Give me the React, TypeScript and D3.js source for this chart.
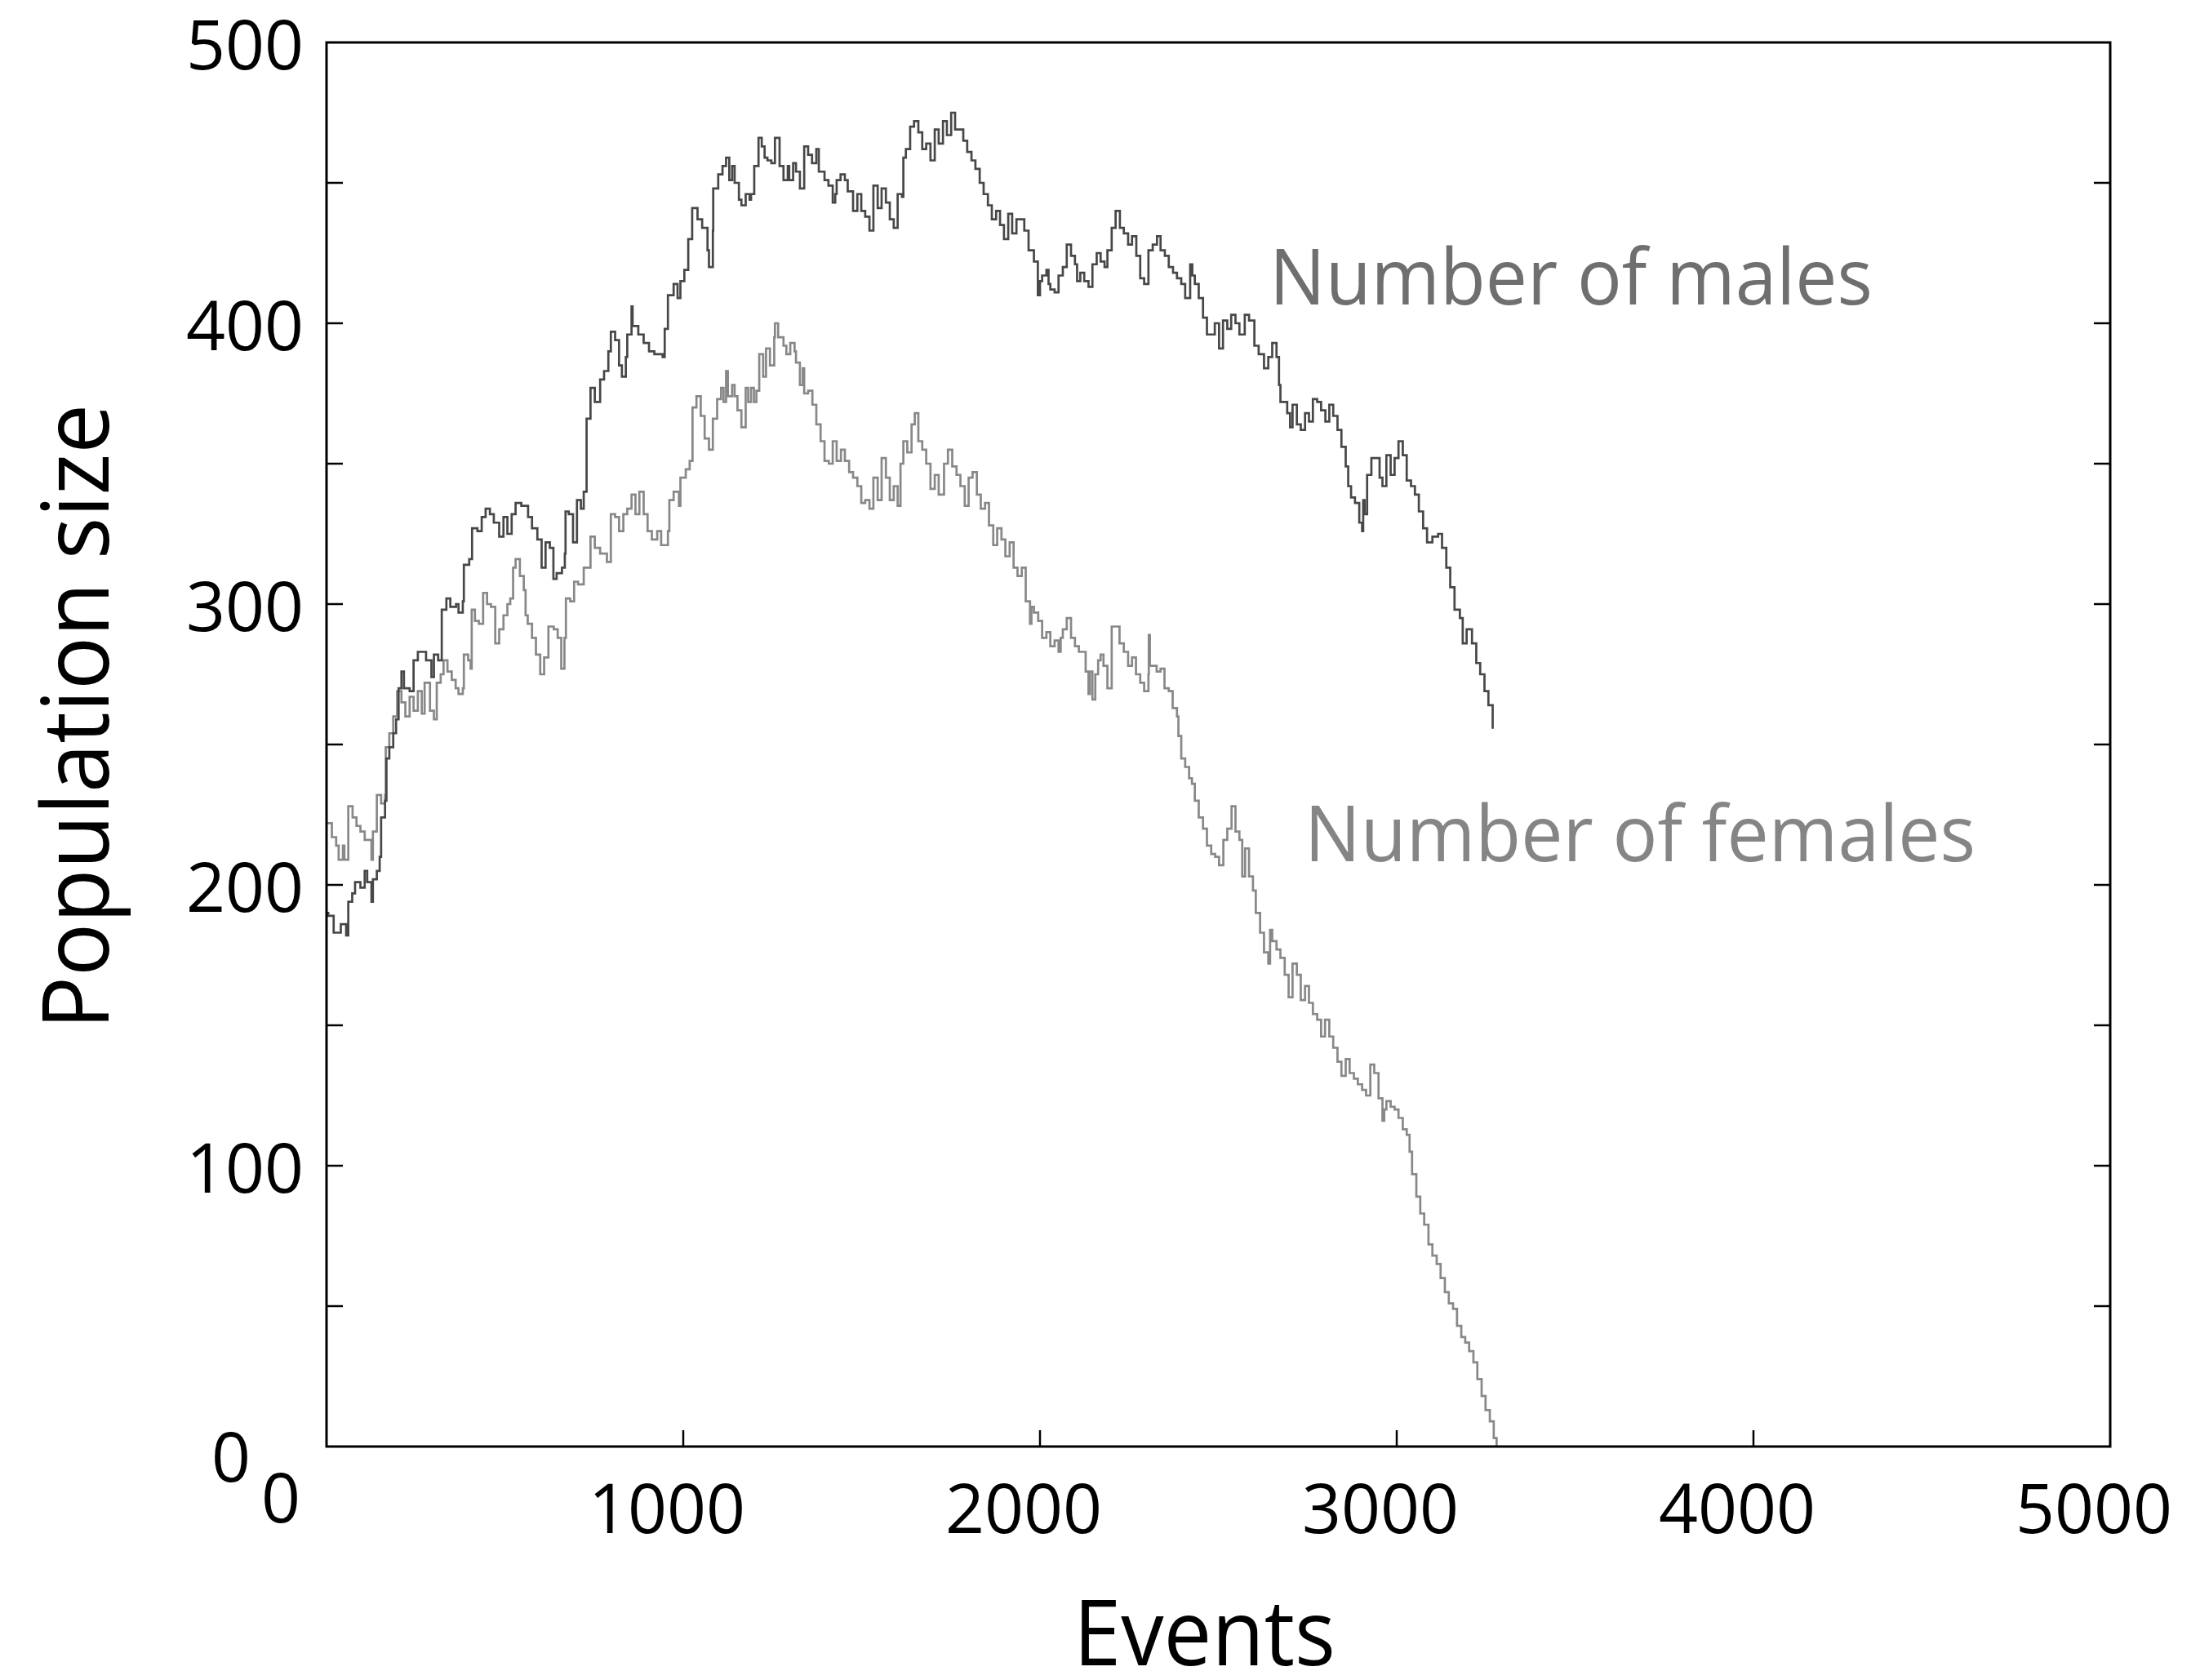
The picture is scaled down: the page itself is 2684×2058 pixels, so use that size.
import React from "react";
import * as d3 from "d3";

const maleEvents = [0,5,20,40,55,61,72,80,95,107,114,126,130,141,149,153,164,168,176,187,195,202,210,217,233,244,256,267,279,294,301,313,323,336,347,363,370,382,385,400,408,423,435,446,458,469,484,496,507,519,530,546,565,576,591,603,614,626,636,645,660,668,670,679,691,702,713,721,729,740,752,763,767,778,790,797,809,820,828,839,843,855,858,874,889,904,919,942,948,957,973,984,992,1003,1014,1025,1040,1053,1068,1072,1083,1084,1098,1110,1120,1129,1137,1144,1156,1163,1175,1186,1190,1199,1211,1220,1228,1236,1247,1257,1270,1281,1293,1297,1308,1316,1327,1339,1350,1361,1373,1380,1396,1407,1419,1426,1430,1441,1453,1461,1476,1488,1499,1510,1522,1533,1545,1556,1568,1579,1590,1601,1613,1617,1624,1636,1647,1659,1670,1681,1693,1705,1716,1728,1739,1751,1762,1773,1785,1796,1808,1819,1831,1842,1854,1865,1877,1888,1899,1911,1922,1934,1945,1956,1968,1983,1994,2000,2006,2018,2024,2029,2041,2052,2064,2075,2087,2098,2104,2113,2124,2136,2147,2159,2170,2181,2189,2201,2212,2224,2235,2247,2258,2270,2281,2292,2304,2316,2328,2338,2350,2361,2373,2384,2396,2407,2421,2427,2434,2445,2457,2468,2479,2490,2502,2513,2525,2536,2548,2559,2570,2574,2586,2601,2613,2628,2640,2651,2663,2670,2674,2693,2701,2708,2720,2731,2743,2754,2765,2777,2788,2800,2811,2822,2834,2845,2857,2864,2872,2883,2895,2903,2906,2910,2917,2929,2945,2952,2960,2971,2983,2994,3005,3017,3028,3040,3051,3062,3074,3085,3100,3116,3127,3139,3150,3162,3177,3185,3196,3211,3223,3234,3246,3257,3269,3272];
const maleValues = [190,189,183,186,182,194,197,201,199,205,201,194,202,205,210,224,230,245,249,254,259,270,276,270,269,280,283,283,280,274,282,280,298,302,299,300,297,301,314,316,327,326,331,334,332,329,324,331,325,332,336,335,331,327,323,313,322,320,309,311,313,318,333,332,322,337,334,340,366,377,372,372,380,383,390,397,394,385,381,388,396,406,399,396,393,390,389,388,398,410,414,409,415,419,430,441,437,434,426,420,433,448,453,456,459,451,456,450,444,442,446,444,446,456,466,463,459,458,457,466,456,451,456,451,457,454,448,463,460,457,462,454,451,449,443,446,451,453,451,447,440,446,440,438,433,449,441,448,443,437,434,446,445,459,462,470,472,468,462,464,458,469,464,472,467,475,469,469,465,461,458,455,450,446,442,437,440,435,430,439,432,437,437,433,426,422,410,415,417,419,414,412,411,417,420,428,424,421,415,418,415,413,421,425,422,420,426,434,440,434,432,428,431,424,416,414,426,428,431,426,424,420,418,416,414,409,421,417,414,409,402,396,396,400,391,401,398,403,400,396,396,403,401,392,389,384,388,393,388,378,372,368,363,371,364,362,368,365,373,372,369,365,371,367,362,356,349,342,338,336,329,326,337,332,346,352,352,345,342,353,346,352,358,353,344,342,339,333,327,322,324,325,320,313,306,298,295,286,291,286,279,275,269,264,256,256];

const femaleEvents = [0,15,27,34,46,50,61,73,84,95,107,126,130,141,153,164,166,176,187,198,210,221,233,244,256,267,275,290,301,309,320,328,339,351,362,370,382,385,397,404,407,416,427,439,450,461,473,484,496,507,515,523,530,542,553,558,564,576,587,599,610,622,637,648,658,667,671,683,694,705,721,740,752,767,786,797,809,820,832,843,855,866,877,889,900,912,927,938,957,961,973,988,992,1007,1018,1026,1037,1049,1060,1072,1083,1095,1106,1113,1120,1125,1137,1144,1152,1163,1175,1182,1190,1198,1205,1213,1224,1232,1243,1255,1257,1266,1281,1289,1300,1312,1316,1327,1335,1339,1350,1362,1373,1385,1396,1408,1419,1430,1442,1453,1465,1476,1488,1499,1510,1522,1533,1545,1556,1568,1579,1590,1601,1609,1617,1628,1640,1649,1659,1670,1681,1693,1705,1716,1731,1742,1754,1766,1777,1789,1800,1811,1823,1834,1846,1857,1869,1880,1892,1903,1915,1926,1937,1949,1960,1972,1976,1983,1995,2006,2018,2029,2041,2052,2058,2064,2075,2087,2098,2109,2128,2136,2140,2147,2155,2163,2170,2178,2189,2201,2212,2223,2235,2247,2258,2269,2281,2292,2304,2305,2308,2315,2327,2338,2349,2361,2372,2384,2388,2396,2407,2418,2426,2434,2445,2457,2468,2480,2491,2502,2514,2525,2537,2548,2559,2567,2575,2586,2597,2605,2617,2628,2640,2645,2651,2663,2674,2686,2697,2708,2720,2731,2743,2754,2765,2777,2788,2799,2811,2822,2834,2845,2857,2868,2880,2891,2903,2914,2926,2937,2949,2960,2965,2971,2983,2994,3005,3017,3028,3036,3043,3055,3066,3077,3089,3100,3112,3123,3135,3146,3158,3169,3181,3192,3203,3215,3226,3238,3249,3261,3272,3280];
const femaleValues = [222,217,214,209,214,209,228,224,221,219,216,209,219,232,229,232,249,254,260,269,265,260,267,262,269,261,272,262,259,272,275,280,276,273,270,268,270,282,280,277,298,294,293,304,300,299,286,291,296,300,302,313,316,310,305,296,293,288,282,275,281,292,291,288,277,288,302,301,308,307,313,324,320,318,315,332,331,326,332,334,339,332,340,332,326,323,326,321,326,337,340,335,345,348,351,370,374,367,359,355,366,373,377,372,383,374,378,374,369,363,377,372,377,372,376,389,381,391,385,395,400,395,392,389,393,390,386,378,384,375,376,371,364,358,351,350,358,351,355,351,347,345,342,336,337,334,345,337,352,345,337,342,335,350,358,354,364,368,358,355,350,341,346,339,350,355,349,346,342,335,345,347,339,334,336,328,321,327,323,317,322,313,310,313,301,293,299,297,294,288,290,285,287,283,288,291,295,288,285,283,276,268,276,266,275,280,282,278,270,292,292,286,283,278,281,275,272,269,275,289,278,278,276,277,270,269,263,260,253,245,242,238,236,230,224,220,214,211,210,207,216,220,228,219,216,203,213,203,198,190,183,176,172,184,180,177,174,168,160,172,168,159,164,158,154,152,146,152,146,142,137,132,138,133,131,129,127,125,136,133,124,116,120,123,121,120,117,113,111,105,97,89,83,79,72,68,65,60,55,51,49,43,39,37,34,30,24,18,13,9,3,0];

const yTickValues = [50, 100, 150, 200, 250, 300, 350, 400, 450];
const yLabelValues = [100, 200, 300, 400, 500];
const xTickValues = [1000, 2000, 3000, 4000];
const xLabelValues = [1000, 2000, 3000, 4000, 5000];

const FONT = "'Open Sans', 'Noto Sans', sans-serif";

export default function App() {
  const W = 2684;
  const H = 2058;
  const left = 400, right = 2585, top = 52, bottom = 1772;
  const x = d3.scaleLinear().domain([0, 5000]).range([left, right]);
  const y = d3.scaleLinear().domain([0, 500]).range([bottom, top]);

  const mk = (ev: number[], vals: number[]) =>
    d3
      .line<number>()
      .x((d) => x(ev[d]))
      .y((d) => y(vals[d]))
      .curve(d3.curveStepAfter)(d3.range(ev.length)) || "";

  const malePath = mk(maleEvents, maleValues);
  const femalePath = mk(femaleEvents, femaleValues);

  return (
    <div style={{ position: "absolute", left: 0, top: 0 }}>
      <svg width={W} height={H} viewBox={`0 0 ${W} ${H}`} style={{ display: "block", background: "#fff" }}>
        <rect x={0} y={0} width={W} height={H} fill="#fff" />
        <path d={femalePath} fill="none" stroke="#888888" strokeWidth={2.7} strokeLinejoin="miter" />
        <path d={malePath} fill="none" stroke="#474747" strokeWidth={2.7} strokeLinejoin="miter" />

        <rect x={left} y={top} width={right - left} height={bottom - top} fill="none" stroke="#000" strokeWidth={3} />

        {yTickValues.map((v) => (
          <g key={"yt" + v}>
            <line x1={left} x2={left + 20} y1={y(v)} y2={y(v)} stroke="#000" strokeWidth={2.5} />
            <line x1={right} x2={right - 20} y1={y(v)} y2={y(v)} stroke="#000" strokeWidth={2.5} />
          </g>
        ))}
        {xTickValues.map((v) => (
          <line key={"xt" + v} x1={x(v)} x2={x(v)} y1={bottom} y2={bottom - 20} stroke="#000" strokeWidth={2.5} />
        ))}

        {yLabelValues.map((v) => (
          <text key={"yl" + v} x={372} y={y(v) + 33} textAnchor="end" fontFamily={FONT} fontSize={84} fill="#000">
            {v}
          </text>
        ))}
        <text x={283} y={1815} textAnchor="middle" fontFamily={FONT} fontSize={84} fill="#000">0</text>

        {xLabelValues.map((v) => (
          <text key={"xl" + v} x={x(v) - 20} y={1878} textAnchor="middle" fontFamily={FONT} fontSize={84} fill="#000">
            {v}
          </text>
        ))}
        <text x={344} y={1865} textAnchor="middle" fontFamily={FONT} fontSize={84} fill="#000">0</text>

        <text x={1315} y={2040} fontFamily={FONT} fontSize={112} fill="#000" textLength={321} lengthAdjust="spacingAndGlyphs">
          Events
        </text>
        <text
          transform={`translate(133, ${1261}) rotate(-90)`}
          fontFamily={FONT}
          fontSize={113}
          fill="#000"
          textLength={766}
          lengthAdjust="spacingAndGlyphs"
        >
          Population size
        </text>

        <text x={1555} y={373} fontFamily={FONT} fontSize={95} fill="#6f6f6f" textLength={739} lengthAdjust="spacingAndGlyphs">
          Number of males
        </text>
        <text x={1598} y={1055} fontFamily={FONT} fontSize={96} fill="#858585" textLength={822} lengthAdjust="spacingAndGlyphs">
          Number of females
        </text>
      </svg>
    </div>
  );
}
